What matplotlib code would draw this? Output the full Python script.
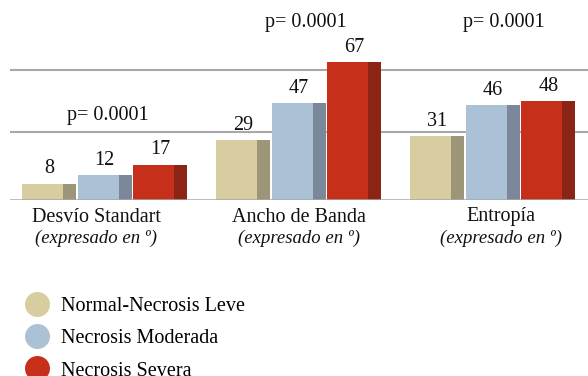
import numpy as np
import matplotlib
matplotlib.use("Agg")
import matplotlib.pyplot as plt
from matplotlib.lines import Line2D

plt.rcParams['font.family'] = ['Liberation Serif', 'DejaVu Serif']

# --- data ---
categories = ["Desvío Standart", "Ancho de Banda", "Entropía"]
subtitle = "(expresado en º)"
series_names = ["Normal-Necrosis Leve", "Necrosis Moderada", "Necrosis Severa"]
leve = [8, 29, 31]
moderada = [12, 47, 46]
severa = [17, 67, 48]
p_values = ["p= 0.0001", "p= 0.0001", "p= 0.0001"]
p_heights = [41, 86, 86]
grid_vals = [30, 60]

# front face / darker side face colours
front_colors = ["#d8cda1", "#aac1d6", "#c6301a"]
side_colors = ["#9d9577", "#7a8899", "#8c2415"]

W, H = 588, 376
fig = plt.figure(figsize=(W / 100, H / 100), dpi=100)
ax = fig.add_axes([10 / W, 176 / H, 578 / W, 175 / H])

slot = 0.286      # one bar slot (group pitch = 1)
front_w = 0.211
side_w = 0.067
depth = 3.2       # back-wall offset of the grid lines

x = np.arange(len(categories))
series = [leve, moderada, severa]
for i, vals in enumerate(series):
    left = x - 1.5 * slot + i * slot
    ax.bar(left, vals, width=front_w, align='edge', color=front_colors[i],
           edgecolor='none', zorder=3)
    ax.bar(left + front_w, vals, width=side_w, align='edge', color=side_colors[i],
           edgecolor='none', zorder=3)
    for xl, v in zip(left, vals):
        ax.annotate(str(v), (xl + (front_w + side_w) / 2, v), xytext=(0, 4),
                    textcoords='offset points', ha='center', va='bottom',
                    fontsize=14.5, color='#111111')

for g in grid_vals:
    ax.axhline(g + depth, color='#a8a8a8', lw=1.5, zorder=1)
ax.axhline(0, color='#a8a8a8', lw=1.8, zorder=4)

# text sits on the wider front plane of the 3D box
p_x = x * 1.02 + 0.013
for xi, p, ph in zip(p_x, p_values, p_heights):
    ax.text(xi, ph, p, ha='center', va='center', fontsize=14.5, color='#111111')

ax.set_xlim(-0.492, 2.487)
ax.set_ylim(0, 85)
ax.axis('off')

# category labels below the axis
label_x = x * 1.044 - 0.049
for xi, name in zip(label_x, categories):
    ax.annotate(name, (xi, 0), xytext=(0, -17), textcoords='offset pixels',
                ha='center', va='center', fontsize=14.5, color='#111111')
    ax.annotate(subtitle, (xi, 0), xytext=(0, -38), textcoords='offset pixels',
                ha='center', va='center', fontsize=13.5, style='italic', color='#111111')

handles = [Line2D([], [], ls='none', marker='o', markersize=18,
                  markerfacecolor=c, markeredgecolor='none') for c in front_colors]
fig.legend(handles, series_names, loc='upper left', bbox_to_anchor=(11 / W, 1 - 287 / H),
           frameon=False, fontsize=14.5, handletextpad=0.4, labelspacing=0.65,
           borderpad=0, handlelength=1.6)

fig.savefig("out.png", dpi=100)
